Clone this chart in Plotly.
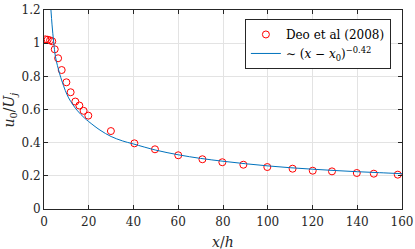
import plotly.graph_objects as go

# Experimental data (Deo et al 2008)
data_x = [0.6, 1.65, 2.7, 3.7, 4.8, 6.3, 7.9, 10.0, 11.9, 14.0, 15.8, 17.7, 19.8,
          29.9, 40.4, 49.6, 60.0, 70.8, 79.7, 89.1, 99.8, 111.1, 120.1, 128.7,
          139.8, 147.4, 158.1]
data_y = [1.023, 1.021, 1.017, 1.011, 0.963, 0.909, 0.838, 0.764, 0.704, 0.648,
          0.624, 0.592, 0.563, 0.470, 0.396, 0.360, 0.324, 0.300, 0.282, 0.267,
          0.253, 0.243, 0.231, 0.227, 0.217, 0.213, 0.207]

# Power-law curve, points
curve_x = [3.1, 3.6, 4.3, 5.1, 6.0, 7.0, 8.0, 9.5, 11, 13, 15, 18, 20, 25, 30, 35,
           40, 50, 60, 70, 80, 90, 100, 110, 120, 130, 140, 150, 160]
curve_y = [1.20, 1.11, 1.01, 0.92, 0.865, 0.815, 0.772, 0.715, 0.670, 0.627, 0.592,
           0.550, 0.527, 0.476, 0.437, 0.411, 0.392, 0.355, 0.327, 0.305, 0.288,
           0.273, 0.260, 0.249, 0.240, 0.232, 0.225, 0.219, 0.213]

x_ticks = [0, 20, 40, 60, 80, 100, 120, 140, 160]
y_ticks = [0, 0.2, 0.4, 0.6, 0.8, 1.0, 1.2]
y_tick_text = ["0", "0.2", "0.4", "0.6", "0.8", "1", "1.2"]

FONT = "DejaVu Serif"
AX = "#262626"

fig = go.Figure()
fig.add_trace(go.Scatter(
    x=data_x, y=data_y, mode="markers", name="Deo et al (2008)",
    marker=dict(symbol="circle-open", size=7, color="#ff0000", line=dict(width=1)),
))
fig.add_trace(go.Scatter(
    x=curve_x, y=curve_y, mode="lines", line_shape="spline",
    name="∼ (<i>x</i> − <i>x</i><sub>0</sub>)<sup>−0.42</sup>",
    line=dict(color="#0072BD", width=1),
))

axis_common = dict(
    showline=True, linecolor=AX, linewidth=1, mirror="allticks",
    ticks="inside", ticklen=4, tickcolor=AX,
    showgrid=True, gridcolor="#e3e3e3", gridwidth=1, zeroline=False,
    tickfont=dict(family=FONT, size=12, color=AX),
)

fig.update_xaxes(range=[0, 160], tickvals=x_ticks, ticklabelstandoff=2, **axis_common)
fig.update_yaxes(range=[0, 1.2], tickvals=y_ticks, ticktext=y_tick_text, **axis_common)

fig.add_annotation(text="<i>x</i>/<i>h</i>", xref="paper", yref="paper",
                   x=0.5, y=-0.165, xanchor="center", yanchor="middle", showarrow=False,
                   font=dict(family=FONT, size=14, color=AX))
fig.add_annotation(text="<i>u</i><sub>0</sub>/<i>U</i><sub><i>j</i></sub>", xref="paper", yref="paper",
                   x=-0.095, y=0.5, xanchor="center", yanchor="middle", showarrow=False,
                   textangle=-90, font=dict(family=FONT, size=14, color=AX))

fig.update_layout(
    width=415, height=249,
    margin=dict(l=44, r=13, t=10, b=40, autoexpand=False),
    paper_bgcolor="white", plot_bgcolor="white",
    font=dict(family=FONT),
    showlegend=True,
    legend=dict(x=0.969, y=0.955, xanchor="right", yanchor="top",
                bgcolor="white", bordercolor=AX, borderwidth=1,
                font=dict(family=FONT, size=12, color="#000000"),
                tracegroupgap=0, itemwidth=30),
)

fig.write_html("out.html", config={"displayModeBar": False},
               post_script="document.body.style.margin='0';document.body.style.padding='0';")
